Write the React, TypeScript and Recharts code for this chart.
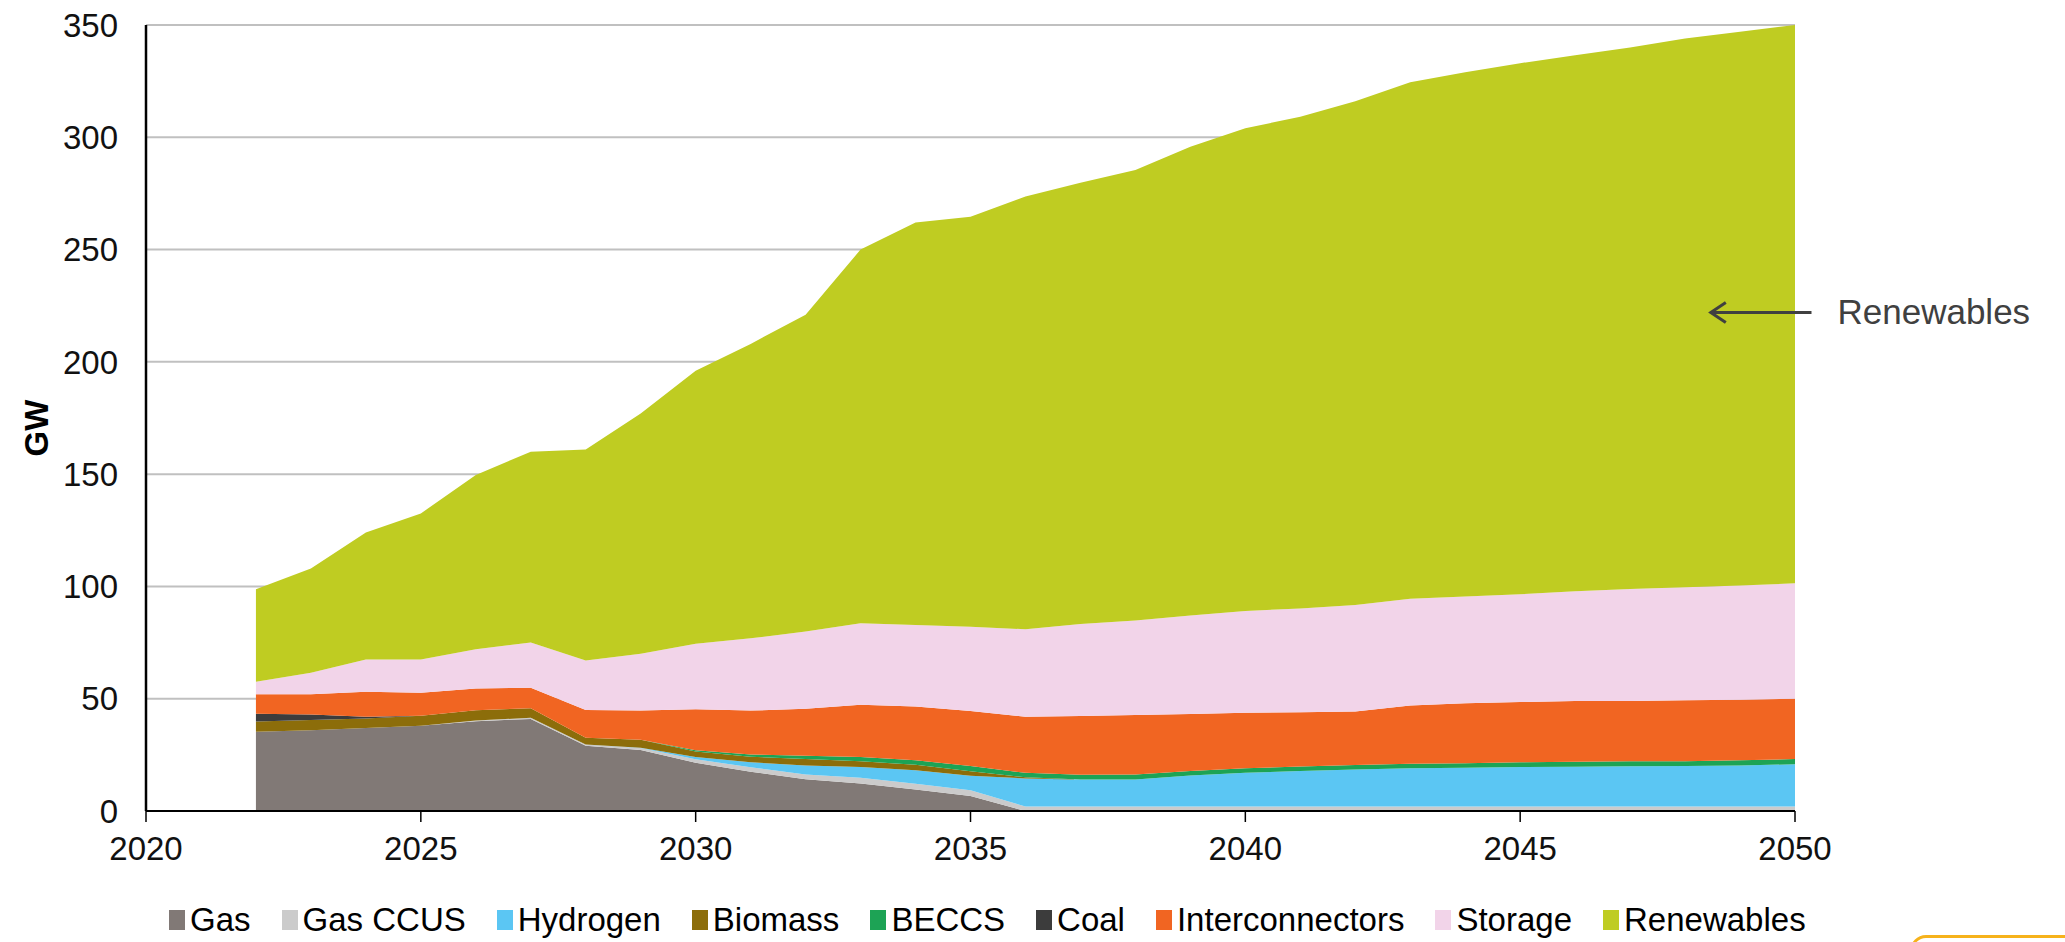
import React from 'react';
import {
  AreaChart,
  Area,
  XAxis,
  YAxis,
  CartesianGrid,
  Legend,
  ReferenceLine,
  Label,
} from 'recharts';

// Installed capacity by technology, GW
const years = [
  2022, 2023, 2024, 2025, 2026, 2027, 2028, 2029, 2030, 2031, 2032, 2033, 2034, 2035, 2036,
  2037, 2038, 2039, 2040, 2041, 2042, 2043, 2044, 2045, 2046, 2047, 2048, 2049, 2050,
];

const gas = [
  35.3, 36, 37, 38, 40, 41, 29, 27.2, 21.5, 17.5, 14.1, 12.3, 9.6, 6.7, 0,
  0, 0, 0, 0, 0, 0, 0, 0, 0, 0, 0, 0, 0, 0,
];
const gasCcus = [
  0, 0, 0, 0, 0.3, 0.5, 0.6, 0.8, 1.5, 2, 2.2, 2.5, 2.5, 2.5, 2,
  2, 2, 2, 2, 2, 2, 2, 2, 2, 2, 2, 2, 2, 2,
];
const hydrogen = [
  0, 0, 0, 0, 0, 0, 0, 0.2, 1, 2.2, 4, 4.8, 6, 6.5, 12.5,
  12, 12, 13.8, 15, 15.8, 16.5, 17, 17.3, 17.6, 17.7, 17.9, 18, 18.3, 18.8,
];
const biomass = [
  4.5, 4.5, 4.2, 4.4, 4.6, 4.2, 3, 3.5, 2.5, 2.5, 2.8, 2.5, 2.5, 2, 0.5,
  0, 0, 0, 0, 0, 0, 0, 0, 0, 0, 0, 0, 0, 0,
];
const beccs = [
  0, 0, 0, 0, 0, 0, 0, 0, 0.5, 1, 1.5, 2, 2, 2.3, 2,
  2.1, 2.2, 2, 2, 2, 2, 2, 2, 2.1, 2.2, 2.2, 2.2, 2.3, 2.3,
];
const coal = [
  3.5, 2.5, 0.8, 0, 0, 0, 0, 0, 0, 0, 0, 0, 0, 0, 0,
  0, 0, 0, 0, 0, 0, 0, 0, 0, 0, 0, 0, 0, 0,
];
const interconnectors = [
  8.7, 9, 11.1, 10.3, 9.7, 9.2, 12.4, 13, 18.3, 19.5, 20.9, 23.2, 23.9, 24.5, 25,
  26.2, 26.5, 25.4, 24.8, 24.2, 23.8, 26, 26.7, 26.8, 27.1, 26.9, 27.1, 26.9, 26.9,
];
const storage = [
  5.6, 9.6, 14.4, 14.8, 17.4, 20.1, 22, 25.3, 29.2, 32.2, 34.4, 36.3, 36.3, 37.6, 38.9,
  41, 42.1, 43.8, 45.3, 46.2, 47.4, 47.5, 47.5, 48, 48.8, 49.8, 50.3, 50.9, 51.4,
];
const renewables = [
  41.1, 46.4, 56.5, 65, 77.6, 85, 94, 107, 121.5, 131.1, 141.1, 166.4, 179.2, 182.5, 192.7,
  196.5, 200.6, 208.8, 214.9, 219, 224.3, 230, 233.5, 236.5, 238.7, 241.2, 244.4, 246.6, 248.6,
];

const xTicks = [2020, 2025, 2030, 2035, 2040, 2045, 2050];
const yTicks = [0, 50, 100, 150, 200, 250, 300, 350];

// Arrow callout pointing into the renewables band
const calloutText = 'Renewables';
const calloutY = 222;
const calloutFrom = 2048.45;
const calloutTo = 2050.3;

const series = [
  { key: 'gas', name: 'Gas', color: '#817976', values: gas },
  { key: 'gasCcus', name: 'Gas CCUS', color: '#cbcbcb', values: gasCcus },
  { key: 'hydrogen', name: 'Hydrogen', color: '#5bc6f3', values: hydrogen },
  { key: 'biomass', name: 'Biomass', color: '#8c6d0a', values: biomass },
  { key: 'beccs', name: 'BECCS', color: '#1da355', values: beccs },
  { key: 'coal', name: 'Coal', color: '#3c3c3c', values: coal },
  { key: 'interconnectors', name: 'Interconnectors', color: '#f16522', values: interconnectors },
  { key: 'storage', name: 'Storage', color: '#f2d4e9', values: storage },
  { key: 'renewables', name: 'Renewables', color: '#bfcc22', values: renewables },
];

const data = years.map((year, i) => {
  const row: Record<string, number> = { year };
  series.forEach((s) => {
    row[s.key] = s.values[i];
  });
  return row;
});

const FONT = '"Liberation Sans", Arial, sans-serif';

const LegendContent = () => (
  <div
    style={{
      display: 'flex',
      alignItems: 'center',
      height: 40,
      lineHeight: '40px',
      paddingLeft: 169,
      fontFamily: FONT,
      fontSize: 33,
      color: '#000',
      whiteSpace: 'nowrap',
    }}
  >
    {series.map((s) => (
      <div key={s.key} style={{ display: 'flex', alignItems: 'center', marginRight: 31 }}>
        <span
          style={{ display: 'inline-block', width: 16, height: 20, background: s.color, marginRight: 5 }}
        />
        <span>{s.name}</span>
      </div>
    ))}
  </div>
);

const GwLabel = (props: any) => {
  const vb = props.viewBox || {};
  const cx = vb.x + 20;
  const cy = vb.y + vb.height / 2 + 10;
  return (
    <text
      x={cx}
      y={cy}
      transform={`rotate(-90, ${cx}, ${cy})`}
      textAnchor="middle"
      dominantBaseline="central"
      fontFamily={FONT}
      fontSize={33}
      fontWeight="bold"
      fill="#000"
    >
      GW
    </text>
  );
};

const CalloutArrow = (props: any) => {
  const { x1, y1, x2 } = props;
  const color = '#404040';
  return (
    <g>
      <line x1={x1 + 1} y1={y1} x2={x2} y2={y1} stroke={color} strokeWidth={3} />
      <polyline
        points={`${x1 + 16},${y1 - 10} ${x1 + 1},${y1} ${x1 + 16},${y1 + 10}`}
        fill="none"
        stroke={color}
        strokeWidth={3}
      />
      <text x={x2 + 26} y={y1 + 12} fontFamily={FONT} fontSize={35} fill={color}>
        {calloutText}
      </text>
    </g>
  );
};

export default function App() {
  return (
    <div
      style={{
        position: 'fixed',
        left: 0,
        top: 0,
        width: 2065,
        height: 942,
        background: '#fff',
        overflow: 'hidden',
        fontFamily: FONT,
      }}
    >
      <AreaChart
        width={2065}
        height={942}
        data={data}
        margin={{ top: 25, right: 270, left: 16, bottom: 31 }}
      >
        <CartesianGrid horizontal vertical={false} stroke="#c0c0c0" strokeWidth={2} />
        {series.map((s) => (
          <Area
            key={s.key}
            type="linear"
            dataKey={s.key}
            name={s.name}
            stackId="cap"
            fill={s.color}
            fillOpacity={1}
            stroke="none"
            isAnimationActive={false}
            dot={false}
            activeDot={false}
          />
        ))}
        <XAxis
          dataKey="year"
          type="number"
          domain={[2020, 2050]}
          ticks={xTicks}
          interval={0}
          height={60}
          tickSize={11}
          tickMargin={15}
          axisLine={{ stroke: '#000', strokeWidth: 2 }}
          tickLine={{ stroke: '#000', strokeWidth: 1.5 }}
          tick={{ fontSize: 33, fill: '#111', fontFamily: FONT }}
        />
        <YAxis
          type="number"
          domain={[0, 350]}
          ticks={yTicks}
          interval={0}
          width={130}
          tickSize={0}
          tickMargin={28}
          axisLine={{ stroke: '#000', strokeWidth: 2.5 }}
          tickLine={false}
          tick={{ fontSize: 33, fill: '#111', fontFamily: FONT }}
        >
          <Label content={GwLabel} />
        </YAxis>
        <ReferenceLine
          segment={[
            { x: calloutFrom, y: calloutY },
            { x: calloutTo, y: calloutY },
          ]}
          ifOverflow="visible"
          shape={CalloutArrow}
        />
        <Legend
          verticalAlign="bottom"
          content={LegendContent}
          wrapperStyle={{ left: 0, top: 900, width: 2065, height: 40 }}
        />
      </AreaChart>
      <div
        style={{
          position: 'absolute',
          left: 1910,
          top: 935,
          width: 220,
          height: 40,
          border: '3px solid #f6b21b',
          borderRadius: 16,
          boxSizing: 'border-box',
        }}
      />
    </div>
  );
}
